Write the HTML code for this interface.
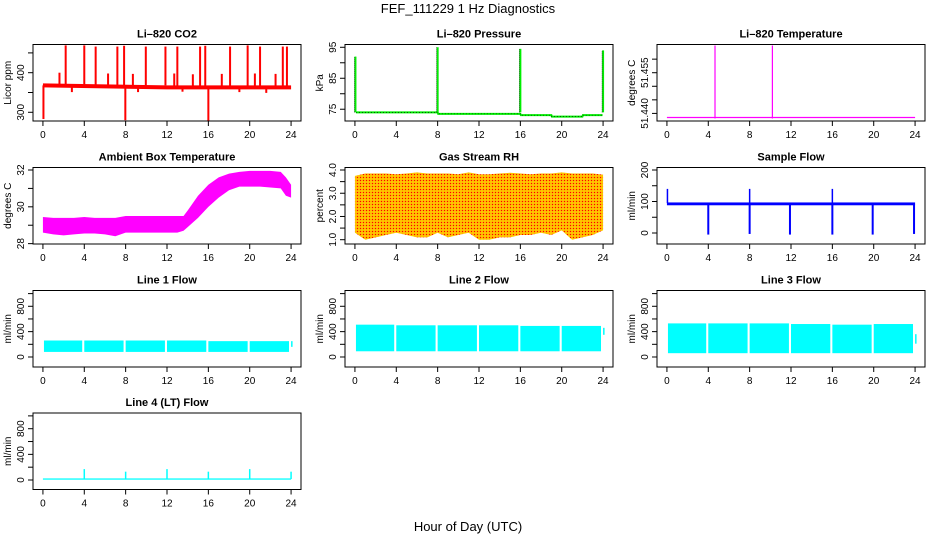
<!DOCTYPE html>
<html><head><meta charset="utf-8"><style>
html,body{margin:0;padding:0;background:#fff;}
svg{display:block;font-family:"Liberation Sans",Arial,sans-serif;}
</style></head><body>
<svg id="fig" width="936" height="540" viewBox="0 0 936 540" xmlns="http://www.w3.org/2000/svg">
<defs>
<pattern id="rhpat" width="3" height="3" patternUnits="userSpaceOnUse">
<rect width="3" height="3" fill="#ffb000"/><rect width="1" height="1" fill="#f00"/><rect x="1.5" y="1.5" width="1" height="1" fill="#ff0"/>
</pattern>
</defs>
<text x="468" y="13" text-anchor="middle" font-size="13">FEF_111229  1 Hz Diagnostics</text>
<text x="468" y="531" text-anchor="middle" font-size="13">Hour of Day (UTC)</text>
</svg>
<script>
// ---- data ----
const xTicks=[0,4,8,12,16,20,24];
// CO2
const co2BaseHours=[0,12,24];
const co2Base=[368,363,363];
const co2SpikeHours=[2.2,4.0,5.1,7.2,7.85,9.95,11.85,13.0,15.2,15.7,18.1,19.8,21.0,23.2,23.6,1.6,6.3,8.7,12.7,14.5,17.3,20.5,22.5];
const co2SpikeVals=[469,469,466,466,468,466,466,466,466,468,466,469,466,466,466,400,398,397,398,396,397,398,397];
const co2DipHours=[0.05,7.97,16.0,2.8,9.2,13.5,19.0,21.6];
const co2DipVals=[283,280,278,351,351,352,351,349];
// Pressure
const presHours=[0.1,8.0,8.05,16.0,16.05,19.0,19.05,22.0,22.05,23.95];
const presVals=[74,74,73.5,73.5,73.1,73.1,72.6,72.6,73.1,73.1];
const presSpikeHours=[0.05,8.0,16.0,24.0];
const presSpikeVals=[92,95,94.5,94];
// Li-820 temperature
const ltempBase=51.4385;
const ltempSpikeHours=[4.65,10.2];
const ltempSpikeVals=[51.47,51.47];
// Ambient box temperature (hourly)
const ambHours=[0,1,2,3,4,5,6,7,8,9,10,11,12,13,13.6,14,15,16,17,18,19,20,21,22,23,23.5,24];
const ambMax=[29.45,29.4,29.4,29.4,29.45,29.4,29.4,29.4,29.5,29.5,29.5,29.5,29.5,29.5,29.5,29.8,30.6,31.2,31.6,31.8,31.9,31.95,31.95,31.95,31.9,31.6,31.2];
const ambMin=[28.6,28.5,28.45,28.5,28.55,28.55,28.5,28.4,28.6,28.6,28.6,28.6,28.6,28.6,28.7,28.9,29.4,30.0,30.5,30.9,31.1,31.1,31.1,31.05,31.0,30.6,30.5];
// Gas stream RH (hourly)
const rhHours=[0,1,2,3,4,5,6,7,8,9,10,11,12,13,14,15,16,17,18,19,20,21,22,23,24];
const rhMax=[3.75,3.85,3.85,3.85,3.82,3.85,3.9,3.85,3.85,3.85,3.82,3.9,3.82,3.82,3.85,3.88,3.85,3.82,3.85,3.85,3.9,3.85,3.85,3.85,3.8];
const rhMin=[1.3,1.0,1.1,1.2,1.3,1.2,1.1,1.1,1.3,1.1,1.2,1.3,1.0,1.0,1.1,1.1,1.2,1.2,1.3,1.2,1.4,1.0,1.1,1.2,1.4];
// Sample flow
const sfBaseMin=88, sfBaseMax=97;
const sfDipHours=[4.0,8.0,11.9,16.0,19.9,23.9];
const sfDipVals=[-5,-3,-5,-5,-5,-3];
const sfSpikeHours=[0.05,8.0,16.0];
const sfSpikeVals=[140,140,140];
// Line flows (segments)
const lfSegStart=[0.1,4.0,8.0,12.0,16.0,20.0,24.0];
const lfSegEnd=[3.8,7.8,11.8,15.8,19.8,23.8,24.05];
const l1Min=[80,80,80,80,80,80,160];
const l1Max=[260,260,260,260,250,250,250];
const l2Min=[90,90,90,90,90,90,350];
const l2Max=[510,500,500,500,490,490,460];
const l3Min=[60,60,60,60,60,60,210];
const l3Max=[530,530,530,520,510,520,360];
// Line 4
const l4Base=[5,25];
const l4SpikeHours=[4.0,8.0,12.0,16.0,20.0,24.0];
const l4SpikeVals=[170,130,170,130,170,130];

// ---- layout ----
const svg=document.getElementById('fig');
const NS='http://www.w3.org/2000/svg';
const colLeft=[33,345,657], rowTop=[44.5,167.5,290.5,413], PW=268, PH=76.5;
function el(tag,attrs,parent){const e=document.createElementNS(NS,tag);for(const k in attrs)e.setAttribute(k,attrs[k]);(parent||svg).appendChild(e);return e;}

function panel(name,title,col,row,ymin,ymax,yTicks,yLabels,ylab){
  const L=colLeft[col],T=rowTop[row];
  const g=el('g',{});
  
  
  const xs=h=>L+(h+0.96)/25.92*PW;
  const ys=v=>T+PH-(v-ymin)/(ymax-ymin)*PH;
  const plot=el('g',{},g);
  
  
  const t=el('text',{x:L+PW/2,y:T-7,'text-anchor':'middle','font-size':11,'font-weight':'bold'},g);
  t.textContent=title;
  
  
  const yt=el('text',{x:0,y:0,'text-anchor':'middle','font-size':10,transform:`translate(${L-22},${T+PH/2}) rotate(-90)`},g);
  yt.textContent=ylab;
  
  
  const box=el('rect',{x:L,y:T,width:PW,height:PH,fill:'none',stroke:'#000','stroke-width':1},g);
  
  
  xTicks.forEach(h=>{
    el('line',{x1:xs(h),x2:xs(h),y1:T+PH,y2:T+PH+5,stroke:'#000'},g);
    const tx=el('text',{x:xs(h),y:T+PH+17,'text-anchor':'middle','font-size':10},g);
    tx.textContent=h;
    
    
  });
  yTicks.forEach((v,i)=>{
    el('line',{x1:L,x2:L-5,y1:ys(v),y2:ys(v),stroke:'#000'},g);
    if(yLabels[i]){
      const ty=el('text',{x:0,y:0,'text-anchor':'middle','font-size':10,transform:`translate(${L-9},${ys(v)}) rotate(-90)`},g);
      ty.textContent=yLabels[i];
      
      
    }
  });
  return {xs,ys,plot};
}
function vline(p,x,y1,y2,c,w){return el('line',{x1:x,x2:x,y1:y1,y2:y2,stroke:c,'stroke-width':w||1},p);}
function band(P,hours,mins,maxs,fill){
  let d='M'+hours.map((h,i)=>P.xs(h)+','+P.ys(maxs[i])).join('L');
  for(let i=hours.length-1;i>=0;i--)d+='L'+P.xs(hours[i])+','+P.ys(mins[i]);
  return el('path',{d:d+'Z',fill:fill,stroke:'none'},P.plot);
}

// CO2
let P=panel('co2','Li\u2013820 CO2',0,0,278,471.2,[300,350,400,450],['300','','400',''],'Licor ppm');
let pl=el('polyline',{points:co2BaseHours.map((h,i)=>P.xs(h)+','+P.ys(co2Base[i])).join(' '),fill:'none',stroke:'#f00','stroke-width':4},P.plot);


co2SpikeHours.forEach((h,i)=>{const b=P.ys(h<12?368:363);const s=vline(P.plot,P.xs(h),b,P.ys(co2SpikeVals[i]),'#f00',2);});
co2DipHours.forEach((h,i)=>{const b=P.ys(h<12?368:363);const s=vline(P.plot,P.xs(h),b,P.ys(co2DipVals[i]),'#f00',2);});

// Pressure
P=panel('pressure','Li\u2013820 Pressure',1,0,71.2,95.9,[75,80,85,90,95],['75','','85','','95'],'kPa');
pl=el('polyline',{points:presHours.map((h,i)=>P.xs(h)+','+P.ys(presVals[i])).join(' '),fill:'none',stroke:'#0e0','stroke-width':2},P.plot);


el('polyline',{points:presHours.map((h,i)=>P.xs(h)+','+P.ys(presVals[i])).join(' '),fill:'none',stroke:'#000','stroke-width':0.6,'stroke-dasharray':'1,2'},P.plot);
presSpikeHours.forEach((h,i)=>{const s=vline(P.plot,P.xs(h),P.ys(74),P.ys(presSpikeVals[i]),'#0e0',2);vline(P.plot,P.xs(h)-1,P.ys(74),P.ys(presSpikeVals[i]),'#000',0.6).setAttribute('stroke-dasharray','1,1');});

// Li temp
P=panel('li820-temp','Li\u2013820 Temperature',2,0,51.4372,51.4654,[51.440,51.445,51.450,51.455,51.460],['51.440','','','51.455',''],'degrees C');
pl=el('line',{x1:P.xs(0),x2:P.xs(24),y1:P.ys(ltempBase),y2:P.ys(ltempBase),stroke:'#f0f','stroke-width':1.2},P.plot);


ltempSpikeHours.forEach((h,i)=>{const s=vline(P.plot,P.xs(h),P.ys(ltempBase)+1,Math.max(P.ys(ltempSpikeVals[i]),rowTop[0]+1),'#f0f',1.2);});

// Ambient
P=panel('ambient-temp','Ambient Box Temperature',0,1,27.98,32.136,[28,29,30,31,32],['28','','30','','32'],'degrees C');
pl=band(P,ambHours,ambMin,ambMax,'#f0f');



// RH
P=panel('gas-rh','Gas Stream RH',1,1,0.815,4.108,[1,1.5,2,2.5,3,3.5,4],['1.0','','2.0','','3.0','','4.0'],'percent');
pl=band(P,rhHours,rhMin,rhMax,'url(#rhpat)');



// Sample flow
P=panel('sample-flow','Sample Flow',2,1,-34.9,207.9,[0,50,100,150,200],['0','','100','','200'],'ml/min');
pl=el('rect',{x:P.xs(0),y:P.ys(sfBaseMax),width:P.xs(24)-P.xs(0),height:P.ys(sfBaseMin)-P.ys(sfBaseMax),fill:'#00f'},P.plot);


sfDipHours.forEach((h,i)=>{const s=vline(P.plot,P.xs(h),P.ys(90),P.ys(sfDipVals[i]),'#00f',2);});
sfSpikeHours.forEach((h,i)=>{const s=vline(P.plot,P.xs(h),P.ys(95),P.ys(sfSpikeVals[i]),'#00f',1.5);});

// Line flows
const lfTicks=[0,200,400,600,800,1000], lfLabels=['0','','400','','800',''];
[['line1-flow','Line 1 Flow',0,2,l1Min,l1Max],['line2-flow','Line 2 Flow',1,2,l2Min,l2Max],['line3-flow','Line 3 Flow',2,2,l3Min,l3Max]].forEach(cfg=>{
  const Q=panel(cfg[0],cfg[1],cfg[2],cfg[3],-158,1049,lfTicks,lfLabels,'ml/min');
  lfSegStart.forEach((s,i)=>{
    const r=el('rect',{x:Q.xs(s),y:Q.ys(cfg[5][i]),width:Math.max(Q.xs(lfSegEnd[i])-Q.xs(s),1.5),height:Q.ys(cfg[4][i])-Q.ys(cfg[5][i]),fill:'#0ff'},Q.plot);
    
    
  });
});

// Line 4
P=panel('line4-flow','Line 4 (LT) Flow',0,3,-148,1045,lfTicks,lfLabels,'ml/min');
pl=el('rect',{x:P.xs(0),y:P.ys(l4Base[1]),width:P.xs(24)-P.xs(0),height:P.ys(l4Base[0])-P.ys(l4Base[1]),fill:'#0ff'},P.plot);


l4SpikeHours.forEach((h,i)=>{const s=vline(P.plot,P.xs(h),P.ys(15),P.ys(l4SpikeVals[i]),'#0ff',1.5);});
</script>
</body></html>
